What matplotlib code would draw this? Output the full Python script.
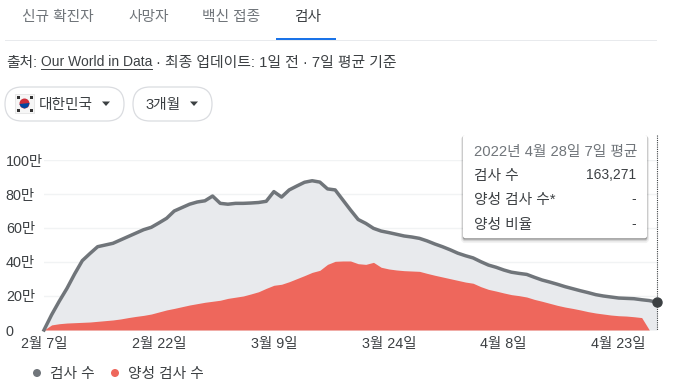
import matplotlib
matplotlib.use('Agg')
import matplotlib.pyplot as plt
import pandas as pd
from matplotlib.patches import Circle, FancyBboxPatch, Polygon, Rectangle

plt.rcParams['font.family'] = ['Liberation Sans', 'Noto Sans CJK KR']

# values in units of 만 (10,000), daily from Feb 7 to Apr 28 2022
tests = [0, 9, 17, 24.5, 33, 40.8, 45, 49, 50, 51, 53, 55, 57, 59, 60.4, 63, 65.7, 70, 72, 74,
         75.3, 76, 78.8, 74.5, 74, 74.5, 74.5, 74.7, 75, 75.7, 81.4, 78.2, 82.4, 84.7, 86.9, 87.8, 87, 83, 82.4, 76.5,
         70.6, 65, 62.7, 59.8, 58.2, 57.3, 56.3, 55.3, 54.7, 53.9, 52.4, 50.6, 49, 47.2, 45.2, 43.7, 42.4, 40.2, 38.2, 36.9,
         35.3, 34, 33.3, 32.7, 31, 29.4, 28.2, 26.9, 25.5, 24.3, 23.1, 22, 20.8, 20, 19.4, 18.8, 18.6, 18.4, 17.8, 17.3,
         16.3]
positives = [0, 3, 3.7, 4.1, 4.3, 4.5, 4.7, 5.1, 5.5, 5.9, 6.5, 7.3, 8, 8.6, 9.4, 10.6, 11.8, 12.7, 13.7, 14.7,
             15.5, 16.3, 16.9, 17.5, 18.6, 19.3, 20, 21.2, 22.5, 24.5, 26.3, 26.9, 28.4, 30.2, 32, 33.9, 35.1, 38.6, 40.4, 40.6,
             40.6, 39, 38.6, 39.8, 36.9, 35.9, 35.3, 34.9, 34.7, 34.5, 33.3, 32.2, 31.2, 30.2, 29.2, 28.2, 27.5, 25.5, 23.9, 22.9,
             21.8, 20.8, 20.2, 19.4, 18, 16.9, 15.7, 14.5, 13.5, 12.7, 11.8, 10.8, 10, 9.4, 8.8, 8.4, 8.2, 7.8, 7.3, 0]
dates = pd.date_range('2022-02-07', periods=len(tests))
pos_dates = dates[:len(positives)]

y_ticks = [0, 20, 40, 60, 80, 100]
y_labels = ['0', '20만', '40만', '60만', '80만', '100만']
x_ticks = pd.to_datetime(['2022-02-07', '2022-02-22', '2022-03-09', '2022-03-24', '2022-04-08', '2022-04-23'])
x_labels = ['2월 7일', '2월 22일', '3월 9일', '3월 24일', '4월 8일', '4월 23일']

tabs = ['신규 확진자', '사망자', '백신 접종', '검사']
tooltip_rows = [('검사 수', '163,271'), ('양성 검사 수*', '-'), ('양성 비율', '-')]

GRAY = '#70757a'
TEXT = '#3c4043'
RED = '#ee675c'

W, H = 690, 391
fig = plt.figure(figsize=(W / 100, H / 100), dpi=100)

# chart area, pixel box 44..657 x 160..330
ax = fig.add_axes([44 / W, (H - 330) / H, (657 - 44) / W, 170 / H])
ax.fill_between(dates, tests, color='#e8eaed', lw=0, zorder=2)
ax.fill_between(pos_dates, positives, color=RED, lw=0, zorder=3)
ax.plot(dates, tests, color=GRAY, lw=2.5, zorder=4, solid_joinstyle='round', clip_on=False)
ax.plot(dates[-1], tests[-1], 'o', color='#3c4043', ms=6.5, zorder=6, clip_on=False)
ax.set_xlim(dates[0], dates[-1])
ax.set_ylim(0, 100)
for s in ax.spines.values():
    s.set_visible(False)
ax.set_yticks(y_ticks)
ax.set_yticklabels(y_labels, ha='left', fontsize=10.4, color=TEXT)
ax.tick_params(axis='y', length=0, pad=27.5)
ax.set_xticks(x_ticks)
ax.set_xticklabels(x_labels, fontsize=10.4, color=TEXT)
ax.tick_params(axis='x', length=0, pad=5)
ax.grid(axis='y', color='#f1f3f4', lw=1, zorder=1)
ax.set_axisbelow(True)

# everything around the chart in pixel coordinates
ui = fig.add_axes([0, 0, 1, 1])
ui.set_xlim(0, W)
ui.set_ylim(H, 0)
ui.axis('off')
ui.patch.set_alpha(0)

# tabs
tab_x = [22, 128, 202, 294]
for i, t in enumerate(tabs):
    ui.text(tab_x[i], 17, t, fontsize=10.6, va='center', color=TEXT if i == 3 else GRAY)
ui.add_patch(Rectangle((5, 40), 652, 1, color='#e8eaed', lw=0))
ui.add_patch(Rectangle((276, 38), 60, 2.2, color='#1a73e8', lw=0))

# source line
ui.text(6, 63, '출처:', fontsize=10.6, va='center', color=TEXT)
ui.text(41, 62.5, 'Our World in Data', fontsize=10, va='center', color=TEXT)
ui.plot([41, 152], [68.5, 68.5], color=TEXT, lw=0.7)
ui.text(156, 63, '· 최종 업데이트: 1일 전 · 7일 평균 기준', fontsize=10.7, va='center', color=TEXT)

# filter pills
for x0, x1 in [(5, 124), (133, 212)]:
    ui.add_patch(FancyBboxPatch((x0, 87), x1 - x0, 34, boxstyle='round,pad=0,rounding_size=17',
                                fc='white', ec='#dadce0', lw=0.9))
ui.add_patch(Rectangle((15, 94), 19, 19, fc='#f6f6f6', ec='#e4e4e4', lw=0.6))
ui.add_patch(Circle((24.5, 103.5), 5, fc='#cd2e3a', lw=0))
ui.add_patch(Polygon([(19.5, 104), (29.5, 103), (28, 107), (24.5, 108.5), (21, 107)], fc='#0047a0', lw=0))
for fx, fy in [(18, 97), (31, 97), (18, 110), (31, 110)]:
    ui.add_patch(Rectangle((fx - 1.5, fy - 1.5), 3, 3, fc='#333333', lw=0))
ui.text(39, 105, '대한민국', fontsize=10.6, va='center', color=TEXT)
ui.text(146, 105, '3개월', fontsize=10.6, va='center', color=TEXT)
for cx in [106, 194]:
    ui.add_patch(Polygon([(cx - 4, 101.5), (cx + 4, 101.5), (cx, 106)], fc=TEXT, lw=0))

# dotted line at the last day
ui.plot([657, 657], [135, 330], color='#3c4043', lw=0.8, ls=(0, (1, 1)), zorder=5)

# tooltip
for off, a in [(3, 0.05), (2, 0.08), (1, 0.12)]:
    ui.add_patch(FancyBboxPatch((463, 135 + off), 184, 103, boxstyle='round,pad=0,rounding_size=2',
                                fc='black', ec='black', lw=off, alpha=a, zorder=6))
ui.add_patch(FancyBboxPatch((463, 135), 184, 103, boxstyle='round,pad=0,rounding_size=2',
                            fc='white', ec='none', zorder=7))
ui.text(474, 152, '2022년 4월 28일 7일 평균', fontsize=10.6, va='center', color=GRAY, zorder=8)
for (name, val), y in zip(tooltip_rows, [176, 200, 225]):
    ui.text(474, y, name, fontsize=10.6, va='center', color=TEXT, zorder=8)
    ui.text(636, y - 1, val, fontsize=10, va='center', ha='right', color=TEXT, zorder=8)

# legend
ui.add_patch(Circle((37, 373), 4, fc=GRAY, lw=0))
ui.text(50, 374, '검사 수', fontsize=10.6, va='center', color=TEXT)
ui.add_patch(Circle((115, 373), 4, fc=RED, lw=0))
ui.text(128, 374, '양성 검사 수', fontsize=10.6, va='center', color=TEXT)

fig.savefig('out.png', dpi=100)
